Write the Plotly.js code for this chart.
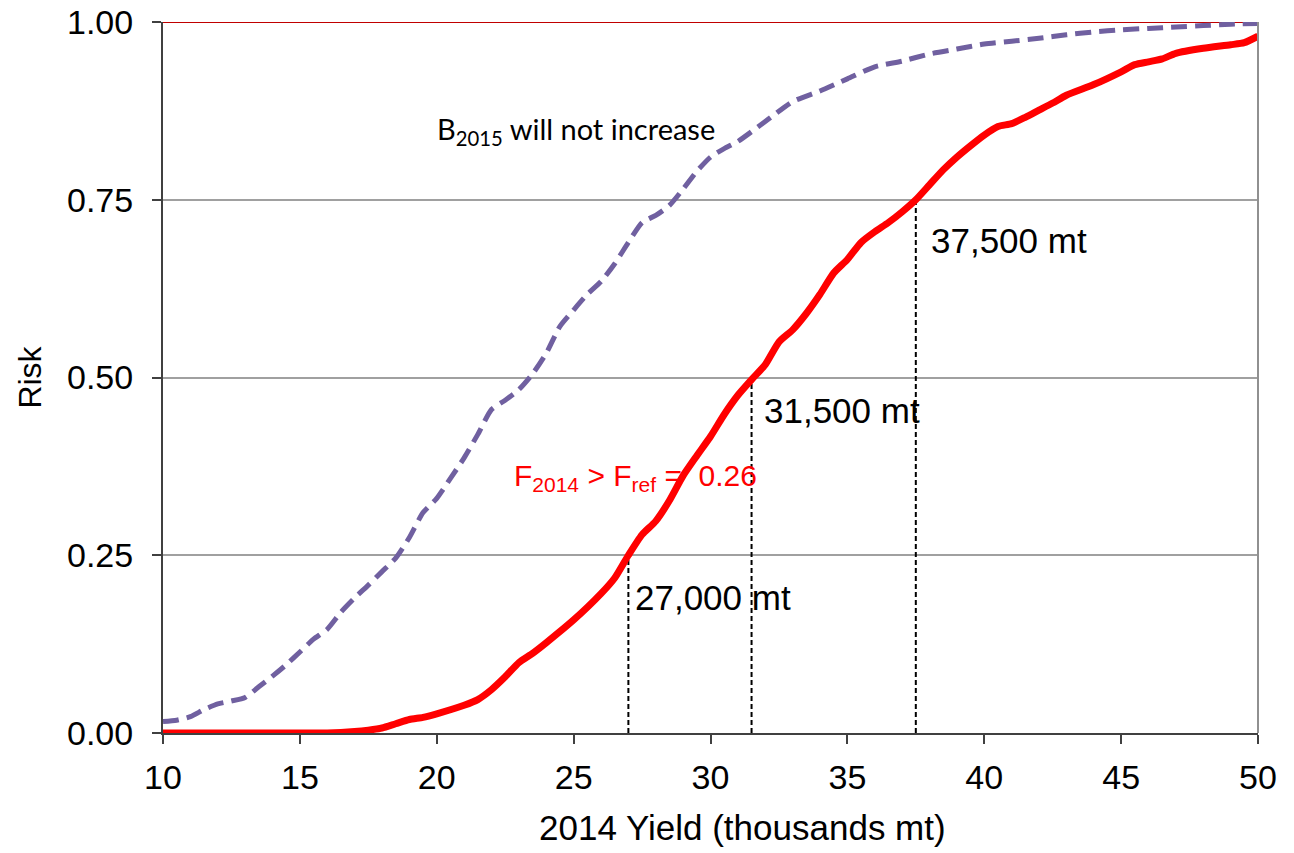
<!DOCTYPE html>
<html>
<head>
<meta charset="utf-8">
<script src="https://cdn.plot.ly/plotly-3.0.1.min.js"></script>
<style>html,body{margin:0;padding:0;background:#fff;}#chart{width:1294px;height:853px;}</style>
</head>
<body>
<div id="chart"></div>
<script>
// Risk curve for F2014 > Fref (red, solid)
const fYield = [10, 12, 14, 16, 17, 17.5, 18, 18.5, 19, 19.5, 20, 21, 21.5, 22, 22.5, 23, 23.5, 24, 25, 26, 26.5, 27, 27.5, 28, 28.5, 29, 29.5, 30, 30.5, 31, 31.5, 32, 32.5, 33, 33.5, 34, 34.5, 35, 35.5, 36, 36.5, 37, 37.5, 38, 38.5, 39, 39.5, 40, 40.5, 41, 41.5, 42, 42.5, 43, 44, 45, 45.5, 46, 46.5, 47, 48, 49, 49.5, 50];
const fRisk = [0, 0, 0, 0, 0.002, 0.004, 0.007, 0.013, 0.019, 0.022, 0.027, 0.039, 0.047, 0.061, 0.079, 0.099, 0.112, 0.127, 0.159, 0.196, 0.218, 0.25, 0.279, 0.298, 0.327, 0.362, 0.39, 0.417, 0.448, 0.475, 0.497, 0.518, 0.55, 0.567, 0.59, 0.617, 0.647, 0.666, 0.69, 0.705, 0.718, 0.733, 0.75, 0.771, 0.792, 0.81, 0.826, 0.841, 0.853, 0.857, 0.866, 0.876, 0.886, 0.897, 0.912, 0.93, 0.94, 0.944, 0.948, 0.956, 0.963, 0.968, 0.971, 0.98];

// Risk curve for B2015 will not increase (purple, dashed)
const bYield = [10, 10.5, 11, 11.5, 12, 12.5, 13, 13.5, 14, 14.5, 15, 15.5, 16, 16.5, 17, 17.5, 18, 18.5, 19, 19.5, 20, 20.5, 21, 21.5, 22, 22.5, 23, 23.5, 24, 24.5, 25, 25.5, 26, 26.5, 27, 27.5, 28, 28.5, 29, 29.5, 30, 30.5, 31, 32, 33, 34, 35, 36, 37, 38, 39, 40, 41, 42, 43, 44, 45, 46, 47, 48, 49, 50];
const bRisk = [0.016, 0.018, 0.023, 0.033, 0.041, 0.045, 0.05, 0.065, 0.08, 0.096, 0.114, 0.132, 0.146, 0.17, 0.19, 0.208, 0.227, 0.246, 0.275, 0.31, 0.33, 0.358, 0.387, 0.42, 0.455, 0.468, 0.483, 0.505, 0.534, 0.572, 0.595, 0.617, 0.635, 0.66, 0.69, 0.718, 0.728, 0.742, 0.765, 0.79, 0.81, 0.822, 0.832, 0.86, 0.888, 0.903, 0.92, 0.937, 0.945, 0.955, 0.962, 0.969, 0.973, 0.977, 0.982, 0.986, 0.989, 0.991, 0.993, 0.995, 0.997, 0.998];

// Upper reference curve (dark red, at 1.0)
const topYield = [10, 50];
const topRisk = [1, 1];

// Yield thresholds read at risk 0.25, 0.50, 0.75
const threshYield = [27, 31.5, 37.5];
const threshRisk = [0.25, 0.5, 0.75];
const threshLabels = ['27,000 mt', '31,500 mt', '37,500 mt'];
const threshLabelX = [27.17, 31.88, 37.98];
const threshLabelY = [0.19, 0.454, 0.692];

const xTicks = [10, 15, 20, 25, 30, 35, 40, 45, 50];
const yTicks = [0, 0.25, 0.5, 0.75, 1];
const yTickText = ['0.00', '0.25', '0.50', '0.75', '1.00'];
const xTitle = '2014 Yield (thousands mt)';
const yTitle = 'Risk';

const traces = [];
// threshold dashed verticals
threshYield.forEach((x, i) => {
  traces.push({
    x: [x, x], y: [0, threshRisk[i]], mode: 'lines', type: 'scatter',
    line: {color: '#000000', width: 2, dash: '5px,3px'}, hoverinfo: 'skip', showlegend: false
  });
});
traces.push({x: topYield, y: topRisk, mode: 'lines', type: 'scatter',
  line: {color: '#c00000', width: 2}, showlegend: false, cliponaxis: false});
traces.push({x: bYield, y: bRisk, mode: 'lines', type: 'scatter',
  line: {color: '#7060a0', width: 5, dash: '16px,8px', shape: 'spline', smoothing: 0.6}, showlegend: false});
traces.push({x: fYield, y: fRisk, mode: 'lines', type: 'scatter',
  line: {color: '#ff0000', width: 7, shape: 'spline', smoothing: 0.6}, showlegend: false});

const annotations = threshLabels.map((t, i) => ({
  x: threshLabelX[i], y: threshLabelY[i], xref: 'x', yref: 'y', text: t,
  showarrow: false, xanchor: 'left', yanchor: 'middle',
  font: {family: 'Liberation Sans, Arial, sans-serif', size: 35, color: '#000'}
}));
annotations.push({x: 19.94, y: 0.848, xref: 'x', yref: 'y',
  text: 'B<sub>2015</sub> will not increase', showarrow: false, xanchor: 'left', yanchor: 'middle',
  font: {family: 'Lato, Carlito, sans-serif', size: 29, color: '#000'}});
annotations.push({x: 22.75, y: 0.359, xref: 'x', yref: 'y',
  text: 'F<sub>2014</sub> > F<sub>ref</sub> =  0.26', showarrow: false, xanchor: 'left', yanchor: 'middle',
  font: {family: 'Liberation Sans, Arial, sans-serif', size: 30, color: '#ff0000'}});
// x-axis title placed as in the reference (slightly right of centre)
annotations.push({x: 0.529, y: -0.1336, xref: 'paper', yref: 'paper', text: xTitle,
  showarrow: false, xanchor: 'center', yanchor: 'middle',
  font: {family: 'Liberation Sans, Arial, sans-serif', size: 35, color: '#000'}});

const layout = {
  width: 1294, height: 853,
  margin: {l: 163, r: 36, t: 22, b: 120},
  paper_bgcolor: '#ffffff', plot_bgcolor: '#ffffff',
  showlegend: false,
  font: {family: 'Liberation Sans, Arial, sans-serif', color: '#000'},
  xaxis: {
    range: [10, 50], tickvals: xTicks, ticktext: xTicks.map(String),
    showgrid: false, zeroline: false, showline: true, linecolor: '#404040', linewidth: 2,
    ticks: 'outside', ticklen: 9, tickwidth: 2, tickcolor: '#404040',
    tickfont: {size: 34}, ticklabelstandoff: 4
  },
  yaxis: {
    range: [0, 1], tickvals: yTicks, ticktext: yTickText,
    showgrid: true, gridcolor: '#a0a0a0', gridwidth: 2, zeroline: false,
    showline: true, linecolor: '#404040', linewidth: 2,
    ticks: 'outside', ticklen: 9, tickwidth: 2, tickcolor: '#404040',
    tickfont: {size: 34}, ticklabelstandoff: 12,
    title: {text: yTitle, font: {size: 32}, standoff: 16}
  },
  shapes: [{type: 'line', xref: 'paper', yref: 'paper', x0: 1, x1: 1, y0: 0, y1: 1,
    line: {color: '#909090', width: 2}}],
  annotations: annotations
};

Plotly.newPlot('chart', traces, layout, {displayModeBar: false, staticPlot: true});
</script>
</body>
</html>
